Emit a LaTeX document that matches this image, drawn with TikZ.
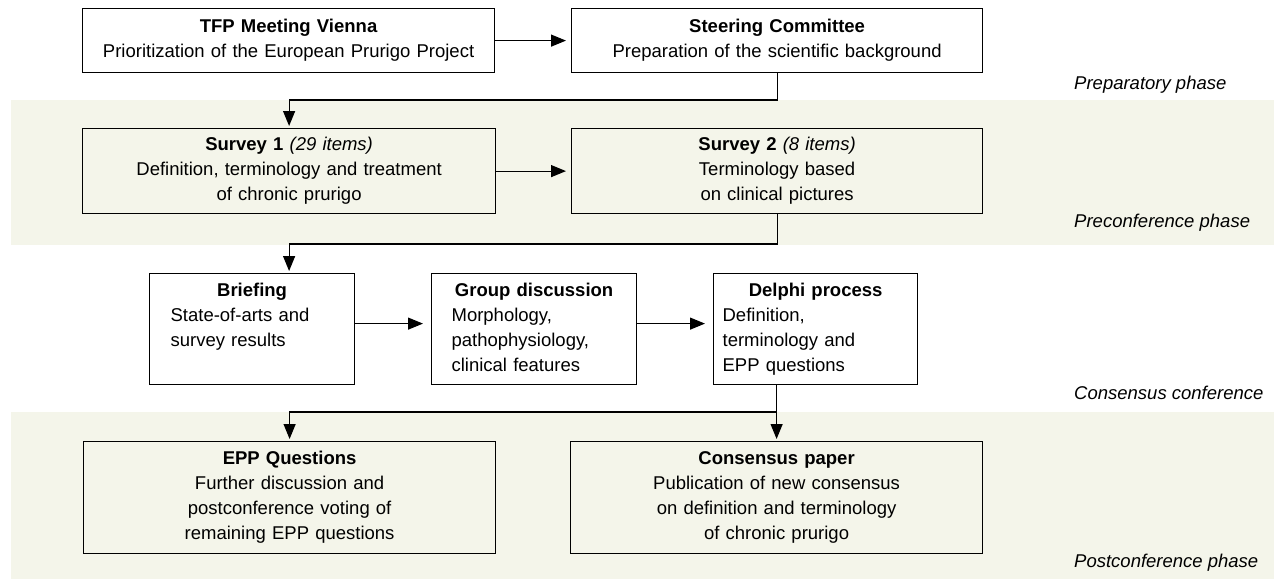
\documentclass[tikz,border=0pt]{standalone}
\usepackage{fontspec}
\setmainfont{Liberation Sans}
\usetikzlibrary{arrows.meta,calc}
\definecolor{bandcol}{HTML}{F4F5EA}
\newcommand{\ctitle}[1]{\makebox[\hsize][c]{\strut\textbf{#1}}}
\begin{document}
\begin{tikzpicture}[x=1pt,y=-1pt,
  font=\fontsize{18.5}{25}\selectfont,
  box/.style={draw=black, line width=1.2pt, rectangle, inner sep=0pt, anchor=north west},
  cbox/.style={box, align=center},
  lbox/.style={box, align=left},
  arr/.style={-{Triangle[length=15pt,width=12pt]}, line width=1.2pt},
  phase/.style={anchor=west, inner sep=0pt, font=\fontsize{18.5}{25}\selectfont\itshape}]
\useasboundingbox (0,0) rectangle (1274,579);
\fill[white] (0,0) rectangle (1274,579);
\fill[bandcol] (11,100) rectangle (1274,245);
\fill[bandcol] (11,412) rectangle (1274,579);

% preparatory phase
\node[cbox, minimum width=412pt, minimum height=64pt, text width=400pt] (tfp) at (82,8)
  {\textbf{TFP Meeting Vienna}\\Prioritization of the European Prurigo Project};
\node[cbox, minimum width=411pt, minimum height=64pt, text width=400pt] (steer) at (571,8)
  {\textbf{Steering Committee}\\Preparation of the scientific background};

% preconference phase
\node[cbox, minimum width=413pt, minimum height=85pt, text width=400pt] (sv1) at (82,128)
  {\textbf{Survey 1} \textit{(29 items)}\\Definition, terminology and treatment\\of chronic prurigo};
\node[cbox, minimum width=411pt, minimum height=85pt, text width=400pt] (sv2) at (571,128)
  {\textbf{Survey 2} \textit{(8 items)}\\Terminology based\\on clinical pictures};

% consensus conference
\node[lbox, minimum width=205pt, minimum height=111pt, text width=205pt] (brief) at (149,273)
  {\ctitle{Briefing}\\\hspace*{21pt}State-of-arts and\\\hspace*{21pt}survey results\\\strut};
\node[lbox, minimum width=205pt, minimum height=111pt, text width=205pt] (group) at (431,273)
  {\ctitle{Group discussion}\\\hspace*{20pt}Morphology,\\\hspace*{20pt}pathophysiology,\\\hspace*{20pt}clinical features\strut};
\node[lbox, minimum width=204pt, minimum height=111pt, text width=204pt] (delphi) at (713,273)
  {\ctitle{Delphi process}\\\hspace*{9pt}Definition,\\\hspace*{9pt}terminology and\\\hspace*{9pt}EPP questions\strut};

% postconference phase
\node[cbox, minimum width=412pt, minimum height=112pt, text width=400pt] (epp) at (83,441)
  {\textbf{EPP Questions}\\Further discussion and\\postconference voting of\\remaining EPP questions};
\node[cbox, minimum width=412pt, minimum height=112pt, text width=400pt] (cons) at (570,441)
  {\textbf{Consensus paper}\\Publication of new consensus\\on definition and terminology\\of chronic prurigo};

% phase labels
\node[phase] (l1) at (1074,85) {Preparatory phase};
\node[phase] (l2) at (1074,223) {Preconference phase};
\node[phase] (l3) at (1074,393) {Consensus conference};
\node[phase] (l4) at (1074,563) {Postconference phase};

% connectors
\draw[arr, shorten >=5pt] (tfp.east) -- (steer.west);
\draw[arr, shorten >=5pt] (sv1.east) -- (sv2.west);
\draw[arr, shorten >=2pt] (steer.south) -- (steer.south |- 0,100) -| (sv1.north);
\draw[arr, shorten >=2pt] (sv2.south) -- (sv2.south |- 0,244) -| (sv1.south |- brief.north);
\draw[arr, shorten >=8pt] ([yshift=5.5pt]brief.east) -- ([yshift=5.5pt]group.west);
\draw[arr, shorten >=8pt] ([yshift=5.5pt]group.east) -- ([yshift=5.5pt]delphi.west);
\draw[arr, shorten >=2pt] (cons.north |- delphi.south) -- (cons.north);
\draw[arr, shorten >=2pt] (cons.north |- 0,412) -| (epp.north);
\end{tikzpicture}
\end{document}
